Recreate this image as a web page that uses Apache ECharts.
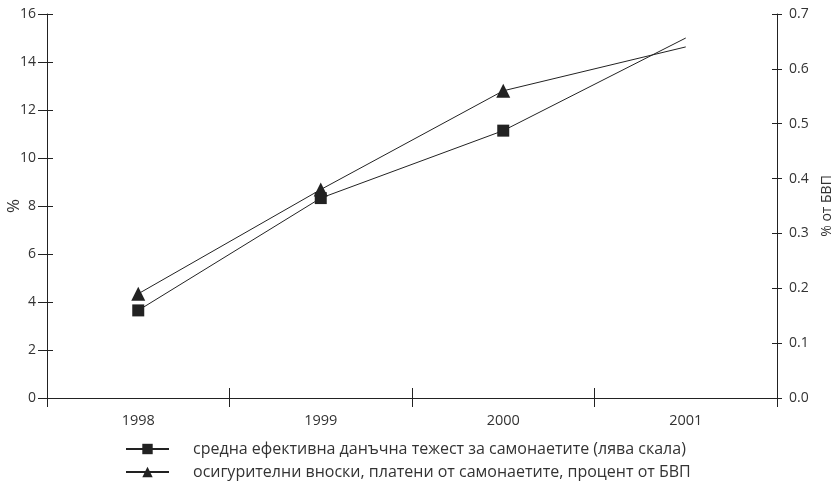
<!DOCTYPE html>
<html><head><meta charset="utf-8">
<script src="https://cdn.jsdelivr.net/npm/echarts@6/dist/echarts.min.js"></script>
<style>html,body{margin:0;padding:0;background:#fff}#c{width:836px;height:485px}</style>
</head><body><div id="c"></div>
<script>
const categories = ['1998', '1999', '2000', '2001'];
const taxBurden = [3.65, 8.33, 11.14, 15.0];
const contributions = [0.19, 0.38, 0.56, 0.64];
const leftTicks = {min: 0, max: 16, interval: 2};
const rightTicks = {min: 0, max: 0.7, interval: 0.1};
const seriesNames = ['средна ефективна данъчна тежест за самонаетите (лява скала)', 'осигурителни вноски, платени от самонаетите, процент от БВП'];

const FONT = 'Open Sans';
const ink = '#222';
const chart = echarts.init(document.getElementById('c'));
const markLast = (arr) => arr.map((v, i) => i === arr.length - 1 ? {value: v, symbol: 'none'} : v);

chart.setOption({
  animation: false,
  textStyle: {fontFamily: FONT},
  grid: {left: 47, right: 59, top: 14, bottom: 87, containLabel: false, outerBoundsMode: 'none'},
  legend: {
    orient: 'vertical', left: 125, top: 441, height: 60, padding: 0,
    itemWidth: 43, itemHeight: 13, itemGap: 7,
    textStyle: {fontFamily: FONT, fontSize: 16, color: '#333', padding: [0, 0, 0, 19]},
    data: seriesNames
  },
  xAxis: [{
    type: 'category', data: categories, boundaryGap: true, position: 'bottom',
    axisLine: {lineStyle: {color: ink, width: 1}},
    axisTick: {show: true, length: 9, lineStyle: {color: ink}},
    axisLabel: {color: '#333', fontSize: 14.5, margin: 15, fontFamily: FONT}
  }, {
    type: 'category', data: categories, boundaryGap: true, position: 'bottom',
    axisLine: {show: false},
    axisTick: {show: true, inside: true, length: 10, lineStyle: {color: ink}},
    axisLabel: {show: false}
  }],
  yAxis: [{
    type: 'value', position: 'left', ...leftTicks,
    name: '%', nameLocation: 'middle', nameGap: 24, nameMoveOverlap: false,
    nameTextStyle: {fontSize: 17, color: '#333', fontFamily: FONT},
    axisLine: {show: true, lineStyle: {color: ink}},
    axisTick: {show: true, length: 9, lineStyle: {color: ink}},
    axisLabel: {color: '#333', fontSize: 14, margin: 11, fontFamily: FONT},
    splitLine: {show: false}
  }, {
    type: 'value', position: 'right', ...rightTicks,
    name: '% от БВП', nameLocation: 'middle', nameGap: 43, nameMoveOverlap: false,
    nameTextStyle: {fontSize: 14, color: '#333', fontFamily: FONT},
    axisLine: {show: true, lineStyle: {color: ink}},
    axisTick: {show: true, length: 5, lineStyle: {color: ink}},
    axisLabel: {color: '#333', fontSize: 14, margin: 12, fontFamily: FONT,
      formatter: v => v.toFixed(1)},
    splitLine: {show: false}
  }, {
    type: 'value', position: 'left', ...leftTicks,
    axisLine: {show: false}, axisLabel: {show: false}, splitLine: {show: false},
    axisTick: {show: true, inside: true, length: 6, lineStyle: {color: ink}}
  }, {
    type: 'value', position: 'right', ...rightTicks,
    axisLine: {show: false}, axisLabel: {show: false}, splitLine: {show: false},
    axisTick: {show: true, inside: true, length: 5, lineStyle: {color: ink}}
  }],
  series: [{
    name: seriesNames[0], type: 'line', xAxisIndex: 0, yAxisIndex: 0,
    data: markLast(taxBurden), symbol: 'rect', symbolSize: 12,
    lineStyle: {color: ink, width: 1}, itemStyle: {color: ink}, color: ink
  }, {
    name: seriesNames[1], type: 'line', xAxisIndex: 0, yAxisIndex: 1,
    data: markLast(contributions), symbol: 'triangle', symbolSize: 14,
    lineStyle: {color: ink, width: 1}, itemStyle: {color: ink}, color: ink
  }]
});
</script></body></html>
